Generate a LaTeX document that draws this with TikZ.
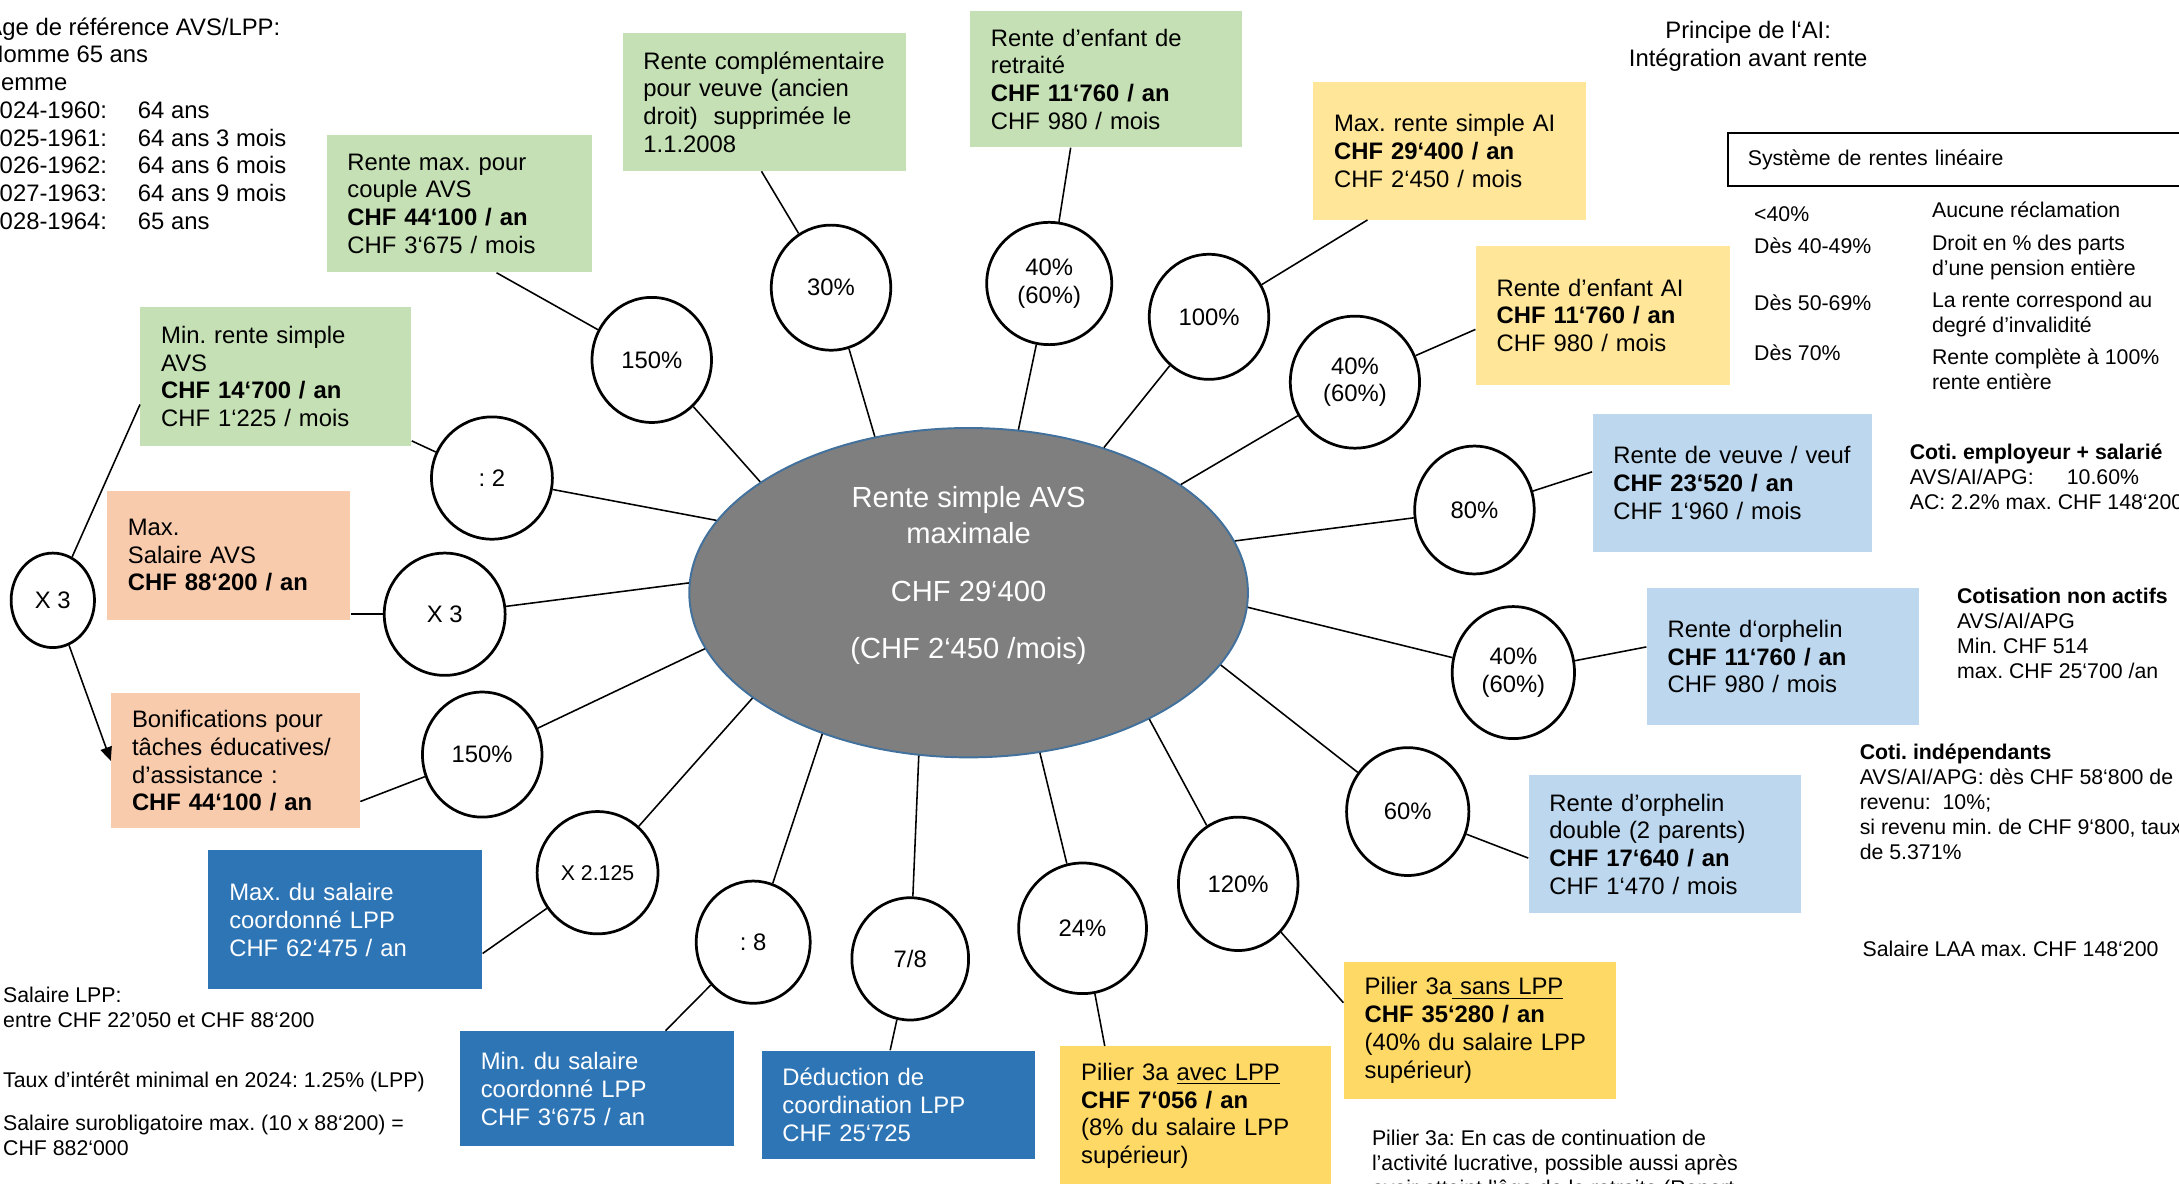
\documentclass[tikz,border=0pt]{standalone}
\usepackage{fontspec}
\setmainfont{Liberation Sans}
\usetikzlibrary{shapes.geometric,arrows.meta,calc}
\frenchspacing

\newlength\unitpx
\setlength\unitpx{0.025cm}
\newcommand\boxsize{\fontsize{12.2}{14.2}\selectfont}
\newcommand\notesize{\fontsize{10.9}{12.8}\selectfont}
\newcommand\hubsize{\fontsize{14.9}{18.5}\selectfont}

\definecolor{boxgreen}{HTML}{C5E0B4}
\definecolor{boxpeach}{HTML}{F8CBAD}
\definecolor{boxyellow}{HTML}{FFE699}
\definecolor{boxgold}{HTML}{FFD966}
\definecolor{boxsky}{HTML}{BDD7EE}
\definecolor{boxblue}{HTML}{2E75B6}
\definecolor{hubgray}{HTML}{7F7F7F}
\definecolor{hubline}{HTML}{41719C}

\begin{document}
\begin{tikzpicture}
  [x=0.025cm,y=-0.025cm,
   infobox/.style={rectangle,inner xsep=15\unitpx,inner ysep=0pt,align=left,font=\boxsize},
   ratio/.style={ellipse,draw,line width=1.4pt,inner sep=0pt,align=center,font=\boxsize,
     minimum width=86\unitpx,minimum height=90\unitpx},
   note/.style={inner sep=0pt,align=left,font=\notesize},
   spoke/.style={line width=0.8pt}]
  \useasboundingbox (0,0) rectangle (1568,852);
  \clip (0,0) rectangle (1568,852);

  \node (hub)[ellipse,fill=hubgray,draw=hubline,line width=1pt,inner sep=0pt,
    minimum width=402\unitpx,minimum height=237\unitpx] at (697,426.5) {};
  \node (hubtxt)[text=white,font=\hubsize,align=center] at (697,414)
    {Rente simple AVS\\maximale\\[16\unitpx]CHF 29‘400\\[15\unitpx](CHF 2‘450 /mois)};

  \node (A)[infobox,fill=boxgreen,text width=161\unitpx,minimum height=99\unitpx] at (330.5,146.5)
    {Rente max. pour\\couple AVS\\\textbf{CHF 44‘100 / an}\\CHF 3‘675 / mois};
  \node (B)[infobox,fill=boxgreen,text width=174\unitpx,minimum height=99\unitpx] at (550,73.5)
    {Rente complémentaire\\pour veuve (ancien\\droit)~ supprimée le\\1.1.2008};
  \node (C)[infobox,fill=boxgreen,text width=166\unitpx,minimum height=98\unitpx] at (796,57)
    {Rente d’enfant de\\retraité\\\textbf{CHF 11‘760 / an}\\CHF 980 / mois};
  \node (D)[infobox,fill=boxyellow,text width=166\unitpx,minimum height=99\unitpx] at (1043,108.5)
    {Max. rente simple AI\\\textbf{CHF 29‘400 / an}\\CHF 2‘450 / mois};
  \node (E)[infobox,fill=boxyellow,text width=153\unitpx,minimum height=100\unitpx] at (1153.5,227)
    {Rente d’enfant AI\\\textbf{CHF 11‘760 / an}\\CHF 980 / mois};
  \node (F)[infobox,fill=boxsky,text width=171\unitpx,minimum height=99\unitpx] at (1246.5,347.5)
    {Rente de veuve / veuf\\\textbf{CHF 23‘520 / an}\\CHF 1‘960 / mois};
  \node (G)[infobox,fill=boxsky,text width=166\unitpx,minimum height=99\unitpx] at (1283,472.5)
    {Rente d‘orphelin\\\textbf{CHF 11‘760 / an}\\CHF 980 / mois};
  \node (H)[infobox,fill=boxsky,text width=166\unitpx,minimum height=99\unitpx] at (1198,607.5)
    {Rente d’orphelin\\double (2 parents)\\\textbf{CHF 17‘640 / an}\\CHF 1‘470 / mois};
  \node (I)[infobox,fill=boxgold,text width=166\unitpx,minimum height=99\unitpx] at (1065,741.5)
    {Pilier 3a\underline{ sans LPP}\\\textbf{CHF 35‘280 / an}\\(40\% du salaire LPP\\supérieur)};
  \node (J)[infobox,fill=boxgold,text width=165\unitpx,minimum height=100\unitpx] at (860.5,803)
    {Pilier 3a \underline{avec LPP}\\\textbf{CHF 7‘056 / an}\\(8\% du salaire LPP\\supérieur)};
  \node (K)[infobox,fill=boxblue,text=white,text width=167\unitpx,minimum height=78\unitpx] at (646.5,795)
    {Déduction de\\coordination LPP\\CHF 25‘725};
  \node (L)[infobox,fill=boxblue,text=white,text width=167\unitpx,minimum height=83\unitpx] at (429.5,783.5)
    {Min. du salaire\\coordonné LPP\\CHF 3‘675 / an};
  \node (M)[infobox,fill=boxblue,text=white,text width=167\unitpx,minimum height=100\unitpx] at (248.5,662)
    {Max. du salaire\\coordonné LPP\\CHF 62‘475 / an};
  \node (N)[infobox,fill=boxpeach,text width=149\unitpx,minimum height=97\unitpx] at (169.5,547.5)
    {Bonifications pour\\tâches éducatives/\\d’assistance :\\\textbf{CHF 44‘100 / an}};
  \node (O)[infobox,fill=boxpeach,text width=145\unitpx,minimum height=93\unitpx] at (164.5,399.5)
    {Max.\\Salaire AVS\\\textbf{CHF 88‘200 / an}};
  \node (P)[infobox,fill=boxgreen,text width=165\unitpx,minimum height=100\unitpx] at (198.5,271)
    {Min. rente simple\\AVS\\\textbf{CHF 14‘700 / an}\\CHF 1‘225 / mois};

  \node (c1)[ratio] at (469,259) {150\%};
  \node (c2)[ratio] at (598,207) {30\%};
  \node (c3)[ratio,minimum width=90\unitpx,minimum height=88\unitpx] at (755,204) {40\%\\(60\%)};
  \node (c4)[ratio] at (870,228) {100\%};
  \node (c5)[ratio,minimum width=93\unitpx,minimum height=95\unitpx] at (975,275) {40\%\\(60\%)};
  \node (c6)[ratio,minimum height=92\unitpx] at (1061,367) {80\%};
  \node (c7)[ratio,minimum width=88\unitpx,minimum height=95\unitpx] at (1089,484) {40\%\\(60\%)};
  \node (c8)[ratio,minimum width=88\unitpx,minimum height=92\unitpx] at (1013,584) {60\%};
  \node (c9)[ratio,minimum height=96\unitpx] at (891,636) {120\%};
  \node (c10)[ratio,minimum width=92\unitpx,minimum height=94\unitpx] at (779,668) {24\%};
  \node (c11)[ratio,minimum width=84\unitpx,minimum height=88\unitpx] at (655,690) {7/8};
  \node (c12)[ratio,minimum width=82\unitpx,minimum height=88\unitpx] at (542,678) {: 8};
  \node (c13)[ratio,font=\notesize,minimum width=87\unitpx,minimum height=88\unitpx] at (430,628) {X 2.125};
  \node (c14)[ratio] at (347,543) {150\%};
  \node (c15)[ratio,minimum width=87\unitpx,minimum height=88\unitpx] at (320,442) {X 3};
  \node (c16)[ratio,minimum width=87\unitpx,minimum height=88\unitpx] at (354,344) {: 2};
  \node (c17)[ratio,minimum width=60\unitpx,minimum height=68\unitpx] at (38,432) {X 3};

  \coordinate (endA) at ($(A.south west)!0.64!(A.south east)$);
  \coordinate (endB) at ($(B.south west)!0.49!(B.south east)$);
  \coordinate (endC) at ($(C.south west)!0.37!(C.south east)$);
  \coordinate (endD) at ($(D.south west)!0.2!(D.south east)$);
  \coordinate (endE) at ($(E.north west)!0.6!(E.south west)$);
  \coordinate (endF) at ($(F.north west)!0.42!(F.south west)$);
  \coordinate (endG) at ($(G.north west)!0.43!(G.south west)$);
  \coordinate (endH) at ($(H.north west)!0.6!(H.south west)$);
  \coordinate (endI) at ($(I.north west)!0.3!(I.south west)$);
  \coordinate (endJ) at ($(J.north west)!0.165!(J.north east)$);
  \coordinate (endK) at ($(K.north west)!0.47!(K.north east)$);
  \coordinate (endL) at ($(L.north west)!0.75!(L.north east)$);
  \coordinate (endM) at ($(M.south east)!0.26!(M.north east)$);
  \coordinate (endN) at ($(N.south east)!0.2!(N.north east)$);
  \coordinate (endO) at (O.east |- c15);
  \coordinate (endP) at ($(P.south east)!0.04!(P.north east)$);
  \coordinate (upP) at ($(P.south west)!0.3!(P.north west)$);

  \foreach \ang/\to in {152/c1,121/c2,73/c3,47/c4,27/c5,11/c6,357/c7,344/c8,325/c9,294/c10,253/c11,224/c12,206/c13,192/c14,178/c15,164/c16}
    \draw[spoke] (hub.\ang) -- (\to);

  \foreach \from/\to in {c1/endA,c2/endB,c3/endC,c4/endD,c5/endE,c6/endF,c7/endG,c8/endH,c9/endI,c10/endJ,c11/endK,c12/endL,c13/endM,c14/endN,c15/endO,c16/endP,c17/upP}
    \draw[spoke] (\from) -- (\to);

  \draw[spoke,-{Triangle[length=7pt,width=6pt]}] (c17) -- (N.west);

  \node (age)[note,font=\boxsize,anchor=north west] at (-10,10)
    {Âge de référence AVS/LPP:\\Homme 65 ans\\Femme\\
     \makebox[109\unitpx][l]{2024-1960:}64 ans\\
     \makebox[109\unitpx][l]{2025-1961:}64 ans 3 mois\\
     \makebox[109\unitpx][l]{2026-1962:}64 ans 6 mois\\
     \makebox[109\unitpx][l]{2027-1963:}64 ans 9 mois\\
     \makebox[109\unitpx][l]{2028-1964:}65 ans};

  \node (principe)[note,font=\boxsize,align=center,anchor=north] at (1258,15)
    {Principe de l‘AI:\\Intégration avant rente};
  \node (sys)[draw,line width=1pt,anchor=north west,minimum width=380\unitpx,minimum height=38\unitpx,
    inner xsep=14\unitpx,text width=352\unitpx,align=left,font=\notesize] at (1243,95)
    {Système de rentes linéaire};

  \node (t1)[note,anchor=base west] at (1262,159.5) {<40\%};
  \node (t2)[note,anchor=base west] at (1262,182.5) {Dès 40-49\%};
  \node (t3)[note,anchor=base west] at (1262,223.5) {Dès 50-69\%};
  \node (t4)[note,anchor=base west] at (1262,259.5) {Dès 70\%};
  \node (r1)[note,anchor=base west] at (1390,156.5) {Aucune réclamation};
  \node (r2)[note,anchor=north west] at (1390,169) {Droit en \% des parts\\d’une pension entière};
  \node (r3)[note,anchor=north west] at (1390,210) {La rente correspond au\\degré d’invalidité};
  \node (r4)[note,anchor=north west] at (1390,251) {Rente complète à 100\%\\rente entière};

  \node (coti)[note,anchor=north west] at (1374,319)
    {\textbf{Coti. employeur + salarié}\\\makebox[113\unitpx][l]{AVS/AI/APG:}10.60\%\\AC: 2.2\% max. CHF 148‘200};
  \node (nonactifs)[note,anchor=north west] at (1408,423)
    {\textbf{Cotisation non actifs}\\AVS/AI/APG\\Min. CHF 514\\max. CHF 25‘700 /an};
  \node (indep)[note,anchor=north west] at (1338,535)
    {\textbf{Coti. indépendants}\\AVS/AI/APG: dès CHF 58‘800 de\\revenu:~ 10\%;\\si revenu min. de CHF 9‘800, taux\\de 5.371\%};
  \node (laa)[note,anchor=base west] at (1340,688.5) {Salaire LAA max. CHF 148‘200};
  \node (pilier)[note,anchor=north west] at (987,813)
    {Pilier 3a: En cas de continuation de\\l’activité lucrative, possible aussi après\\avoir atteint l’âge de la retraite (Report};

  \node (lpp)[note,anchor=north west] at (2,710) {Salaire LPP:\\entre CHF 22’050 et CHF 88‘200};
  \node (taux)[note,anchor=base west] at (2,782.5) {Taux d’intérêt minimal en 2024: 1.25\% (LPP)};
  \node (suroblig)[note,anchor=north west] at (2,802)
    {Salaire surobligatoire max. (10 x 88‘200) =\\CHF 882‘000};
\end{tikzpicture}
\end{document}
